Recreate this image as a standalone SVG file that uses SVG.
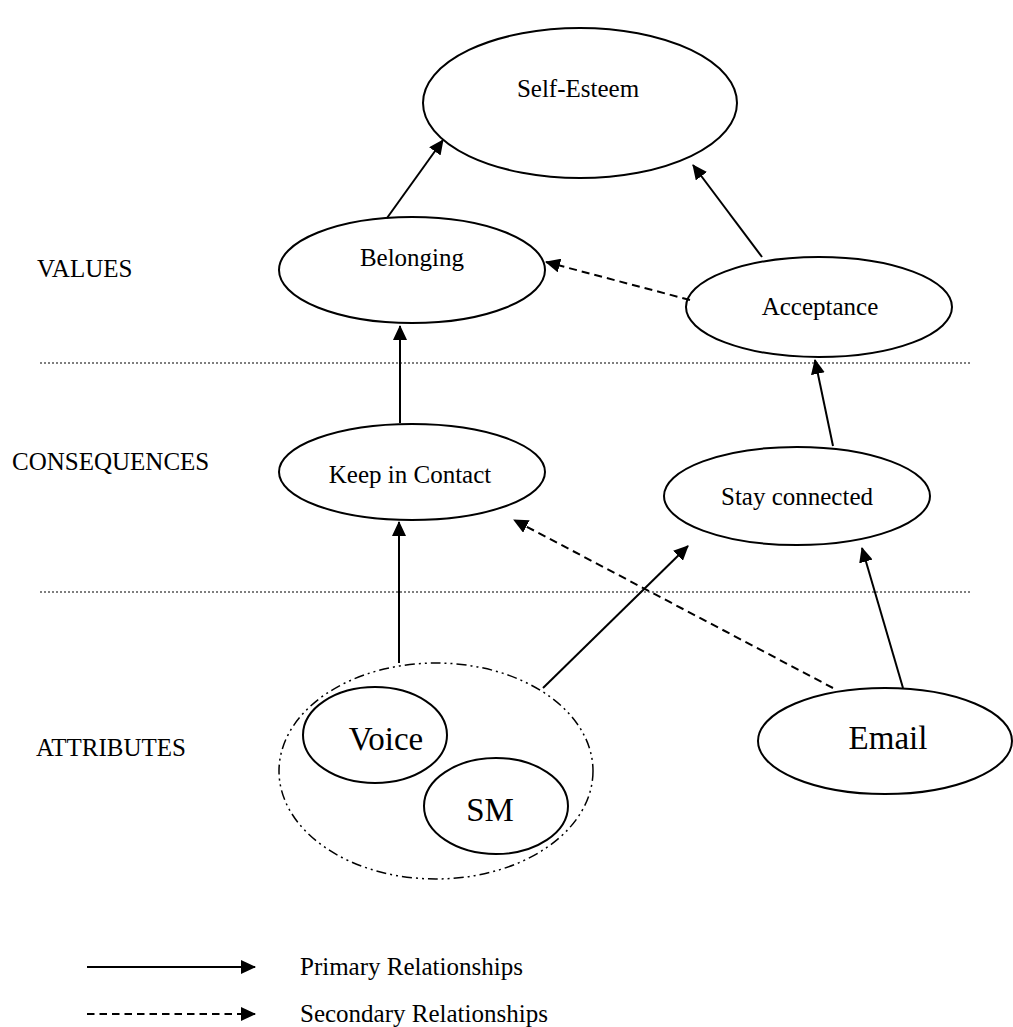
<svg xmlns="http://www.w3.org/2000/svg" width="1013" height="1027" viewBox="0 0 1013 1027">
<style>
.n{fill:#fff;stroke:#000;stroke-width:2}
.t{font-family:"Liberation Serif",serif;font-size:25px;fill:#000;text-anchor:middle}
.tb{font-family:"Liberation Serif",serif;font-size:33px;fill:#000;text-anchor:middle}
.l{font-family:"Liberation Serif",serif;font-size:25px;fill:#000}
.c{stroke:#000;stroke-width:2;fill:none;marker-end:url(#ah)}
.d{stroke-dasharray:8,5}
.sep{stroke:#000;stroke-width:1.2;stroke-dasharray:2,2}
</style>
<defs>
<marker id="ah" viewBox="0 0 15 14" refX="14" refY="7" markerWidth="15" markerHeight="14" orient="auto" markerUnits="userSpaceOnUse">
<path d="M0,0L15,7L0,14z" fill="#000"/>
</marker>
</defs>
<g id="separators">
<line class="sep" x1="40" y1="363" x2="972" y2="363"/>
<line class="sep" x1="40" y1="592" x2="972" y2="592"/>
</g>
<g id="layer-labels">
<text class="l" x="37" y="277">VALUES</text>
<text class="l" x="12" y="470">CONSEQUENCES</text>
<text class="l" x="36" y="756">ATTRIBUTES</text>
</g>
<g id="self-esteem"><ellipse class="n" cx="580" cy="103" rx="157" ry="75"/><text class="t" x="578" y="97">Self-Esteem</text></g>
<g id="belonging"><ellipse class="n" cx="412" cy="270" rx="133" ry="53"/><text class="t" x="412" y="266">Belonging</text></g>
<g id="acceptance"><ellipse class="n" cx="819" cy="307" rx="133" ry="50"/><text class="t" x="820" y="315">Acceptance</text></g>
<g id="keep-in-contact"><ellipse class="n" cx="412" cy="472" rx="133" ry="48"/><text class="t" x="410" y="483">Keep in Contact</text></g>
<g id="stay-connected"><ellipse class="n" cx="797" cy="496" rx="133" ry="49"/><text class="t" x="797" y="505">Stay connected</text></g>
<g id="voice-sm-group"><ellipse cx="436" cy="771" rx="157" ry="108" fill="none" stroke="#000" stroke-width="1.5" stroke-dasharray="10,4,2,4,2,4"/></g>
<g id="voice"><ellipse class="n" cx="375" cy="735" rx="72" ry="48"/><text class="tb" x="386" y="750">Voice</text></g>
<g id="sm"><ellipse class="n" cx="496" cy="806" rx="72" ry="48"/><text class="tb" x="490" y="821">SM</text></g>
<g id="email"><ellipse class="n" cx="885" cy="741" rx="127" ry="53"/><text class="tb" x="888" y="749">Email</text></g>
<g id="connectors">
<line class="c" x1="387" y1="218" x2="443" y2="140"/>
<line class="c" x1="762" y1="257" x2="693" y2="165"/>
<line class="c d" x1="690" y1="300" x2="546" y2="262"/>
<line class="c" x1="400" y1="423" x2="400" y2="326"/>
<line class="c" x1="833" y1="446" x2="815" y2="360"/>
<line class="c" x1="399" y1="663" x2="399" y2="522"/>
<line class="c" x1="543" y1="688" x2="688" y2="546"/>
<line class="c d" x1="833" y1="688" x2="514" y2="520"/>
<line class="c" x1="903" y1="688" x2="862" y2="548"/>
</g>
<g id="legend">
<line class="c" x1="87" y1="967" x2="255" y2="967"/>
<text class="l" x="300" y="975">Primary Relationships</text>
<line class="c" x1="87" y1="1014" x2="255" y2="1014" stroke-dasharray="7.5,5"/>
<text class="l" x="300" y="1022">Secondary Relationships</text>
</g>
</svg>
